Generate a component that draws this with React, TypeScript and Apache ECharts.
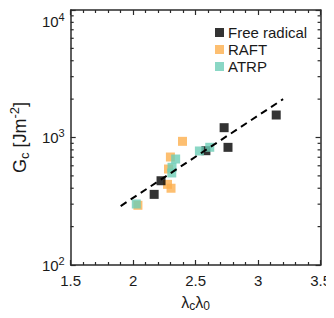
import React, { useEffect, useRef } from "react";
import * as echarts from "echarts";

const freeRadical: [number, number][] = [
  [2.168, 358], [2.223, 458], [2.582, 788], [2.728, 1194], [2.759, 837], [3.145, 1501],
];
const raft: [number, number][] = [
  [2.038, 294], [2.275, 429], [2.303, 400], [2.283, 566], [2.298, 703], [2.395, 933],
];
const atrp: [number, number][] = [
  [2.025, 301], [2.309, 527], [2.311, 584], [2.340, 678], [2.530, 784], [2.613, 838],
];
const fitLine: [number, number][] = [[1.9, 290], [3.2, 2000]];
const logMinorTicks: number[] = [200, 300, 400, 500, 600, 700, 800, 900, 2000, 3000, 4000, 5000, 6000, 7000, 8000, 9000];
const xRange = [1.5, 3.5];

const FONT = "Liberation Sans";
const TXT = "#1a1a1a";

export default function App() {
  const ref = useRef<HTMLDivElement>(null);
  useEffect(() => {
    if (!ref.current) return;
    const chart = echarts.init(ref.current, undefined, { renderer: "svg" });
    const axisLine = { show: true, lineStyle: { color: "#2a2a2a", width: 1.5 } };
    const logLabel = {
      fontFamily: FONT,
      color: TXT,
      margin: 6,
      formatter: (v: number) => {
        const e = Math.round(Math.log10(v));
        return e === 4 ? `{at|10}{bt|${e}}` : `{a|10}{b|${e}}`;
      },
      rich: {
        a: { fontSize: 15, fontFamily: FONT, color: TXT },
        b: { fontSize: 11, fontFamily: FONT, color: TXT, padding: [0, 0, 9, 0] },
        at: { fontSize: 15, fontFamily: FONT, color: TXT, padding: [22, 0, 0, 0] },
        bt: { fontSize: 11, fontFamily: FONT, color: TXT, padding: [13, 0, 0, 0] },
      },
    };
    const minorTickItem = (side: number) => (params: any, api: any) => {
      const y = api.value(0);
      const p = api.coord([xRange[side], y]);
      const dir = side === 0 ? 1 : -1;
      return {
        type: "line",
        shape: { x1: p[0], y1: p[1], x2: p[0] + dir * 3, y2: p[1] },
        style: { stroke: "#2a2a2a", lineWidth: 1.2 },
      };
    };
    const tick = { show: true, inside: true, length: 5, lineStyle: { color: "#2a2a2a", width: 1.2 } };
    const minor = { show: true, splitNumber: 5, length: 3, lineStyle: { color: "#2a2a2a", width: 1.2 } };
    chart.setOption({
      animation: false,
      grid: { left: 65.5, right: 12.5, top: 10, bottom: 53 },
      legend: {
        orient: "vertical",
        left: 215,
        top: 25,
        itemWidth: 9,
        itemHeight: 9,
        itemGap: 2,
        itemStyle: { borderWidth: 0 },
        padding: 0,
        icon: "rect",
        data: ["Free radical", "RAFT", "ATRP"],
        textStyle: { fontSize: 15, fontFamily: FONT, color: TXT, padding: [0, 0, 0, -1] },
      },
      xAxis: [
        {
          type: "value",
          min: 1.5,
          max: 3.5,
          interval: 0.5,
          axisLine,
          axisTick: tick,
          minorTick: minor,
          splitLine: { show: false },
          axisLabel: { fontSize: 15, fontFamily: FONT, color: TXT, margin: 8 },
          name: "{a|λ}{s|c}{a|λ}{s|0}",
          nameLocation: "middle",
          nameGap: 27,
          nameTextStyle: {
            rich: {
              a: { fontSize: 16, fontFamily: FONT, color: TXT },
              s: { fontSize: 12, fontFamily: FONT, color: TXT, padding: [8, 0, 0, 0] },
            },
          },
        },
        {
          type: "value",
          position: "top",
          min: 1.5,
          max: 3.5,
          interval: 0.5,
          axisLine,
          axisTick: tick,
          minorTick: minor,
          splitLine: { show: false },
          axisLabel: { show: false },
        },
      ],
      yAxis: [
        {
          type: "log",
          logBase: 10,
          min: 100,
          max: 10000,
          axisLine,
          axisTick: tick,
          splitLine: { show: false },
          axisLabel: logLabel,
          name: "{a|G}{s|c}{a| [Jm}{p|-2}{a|]}",
          nameLocation: "middle",
          nameRotate: 90,
          nameGap: 39,
          nameTextStyle: {
            rich: {
              a: { fontSize: 18, fontFamily: FONT, color: TXT },
              s: { fontSize: 13, fontFamily: FONT, color: TXT, padding: [10, 0, 0, 0] },
              p: { fontSize: 13, fontFamily: FONT, color: TXT, padding: [0, 0, 10, 0] },
            },
          },
        },
        {
          type: "log",
          logBase: 10,
          position: "right",
          min: 100,
          max: 10000,
          axisLine,
          axisTick: tick,
          splitLine: { show: false },
          axisLabel: { show: false },
        },
      ],
      series: [
        {
          type: "custom",
          silent: true,
          clip: false,
          renderItem: minorTickItem(0),
          data: logMinorTicks.map((v) => [v]),
          encode: { y: 0 },
          z: 1,
        },
        {
          type: "custom",
          silent: true,
          clip: false,
          renderItem: minorTickItem(1),
          data: logMinorTicks.map((v) => [v]),
          encode: { y: 0 },
          z: 1,
        },
        {
          name: "RAFT",
          type: "scatter",
          symbol: "rect",
          symbolSize: 9,
          itemStyle: { color: "#FCAF4D" },
          data: raft,
          z: 2,
        },
        {
          name: "Free radical",
          type: "scatter",
          symbol: "rect",
          symbolSize: 9,
          itemStyle: { color: "#000000" },
          data: freeRadical,
          z: 3,
        },
        {
          name: "ATRP",
          type: "scatter",
          symbol: "rect",
          symbolSize: 9,
          itemStyle: { color: "#6DCDB6" },
          data: atrp,
          z: 4,
        },
        {
          type: "line",
          data: fitLine,
          symbol: "none",
          silent: true,
          lineStyle: { color: "#000", width: 2, type: [7, 5] },
          z: 5,
        },
      ],
    });
    return () => chart.dispose();
  }, []);
  return <div ref={ref} style={{ width: 334, height: 318, margin: -8 }} />;
}
